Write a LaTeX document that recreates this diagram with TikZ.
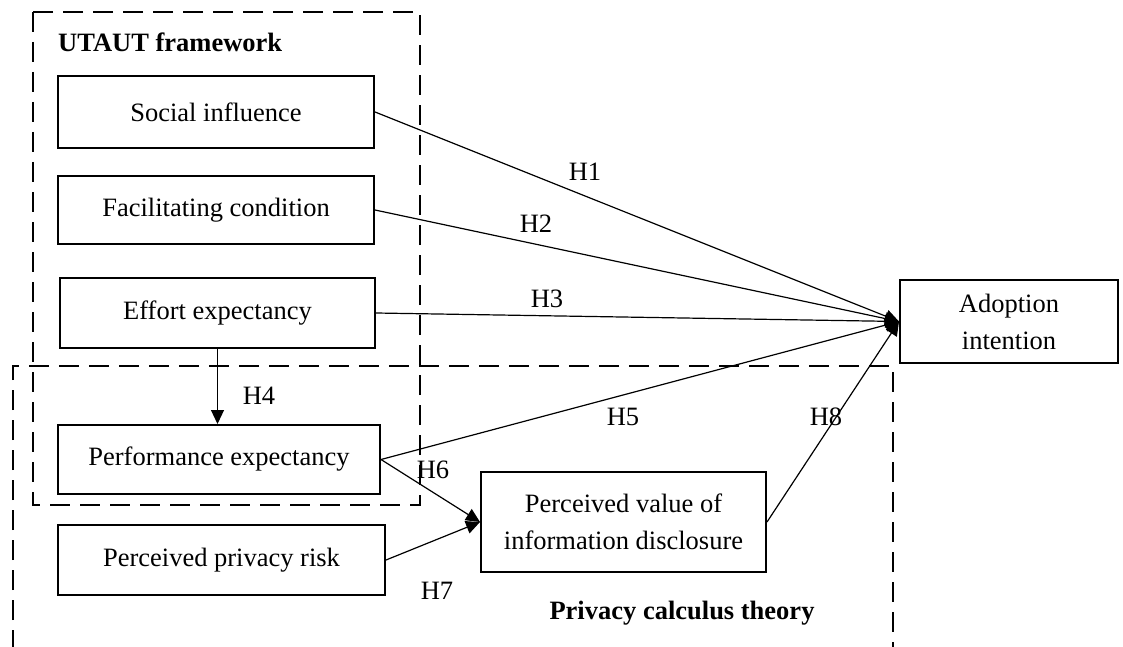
\documentclass[tikz,border=0pt]{standalone}
\usepackage{fontspec}
\setmainfont{Liberation Serif}
\usetikzlibrary{arrows.meta}

\begin{document}
\begin{tikzpicture}[x=1pt,y=-1pt,
  every node/.style={font=\fontsize{26.5}{37}\selectfont, align=center},
  box/.style={draw, line width=2pt, inner sep=0pt},
  frame/.style={line width=2.6pt, dash pattern=on 20pt off 10pt},
  hyp/.style={line width=1.2pt, -{Triangle[length=14pt,width=13pt]}},
  title/.style={font=\fontsize{26.5}{30}\selectfont\bfseries, inner sep=0pt}]
  \useasboundingbox (0,0) rectangle (1123,647);
  % frames
  \draw[frame] (33,12) rectangle (420,505);
  \draw[frame] (13,650) -- (13,366) -- (893,366) -- (893,650);
  \node[title, anchor=west] (utaut) at (58,42) {UTAUT framework};
  \node[title] (pct) at (682,613) {Privacy calculus theory};
  % constructs
  \node[box, minimum width=316pt, minimum height=72pt] (si) at (216,112) {Social influence};
  \node[box, minimum width=316pt, minimum height=67pt] (fc) at (216,210) {Facilitating condition};
  \node[box, minimum width=315pt, minimum height=70pt] (ee) at (217.5,313) {Effort expectancy};
  \node[box, minimum width=322pt, minimum height=69pt] (pe) at (219,459.5) {Performance expectancy};
  \node[box, minimum width=327pt, minimum height=70pt] (pr) at (221.5,560) {Perceived privacy risk};
  \node[box, minimum width=285pt, minimum height=100pt] (pv) at (623.5,522) {Perceived value of\\information disclosure};
  \node[box, minimum width=218pt, minimum height=83pt] (ai) at (1009,321.5) {Adoption\\intention};
  % hypotheses
  \draw[hyp] (si.east) -- (ai.west);
  \draw[hyp] (fc.east) -- (ai.west);
  \draw[hyp] (ee.east) -- (ai.west);
  \draw[hyp] (pe.east) -- (ai.west);
  \draw[hyp] (pv.east) -- (ai.west);
  \draw[hyp] (ee.south) -- (ee.south |- pe.north);
  \draw[hyp] (pe.east) -- (pv.west);
  \draw[hyp] (pr.east) -- (pv.west);
  \node (h1) at (585,172) {H1};
  \node (h2) at (536,224) {H2};
  \node (h3) at (547,299) {H3};
  \node (h4) at (259,396) {H4};
  \node (h5) at (623,417) {H5};
  \node (h6) at (433,470) {H6};
  \node (h7) at (437,591) {H7};
  \node (h8) at (826,417) {H8};
\end{tikzpicture}
\end{document}
